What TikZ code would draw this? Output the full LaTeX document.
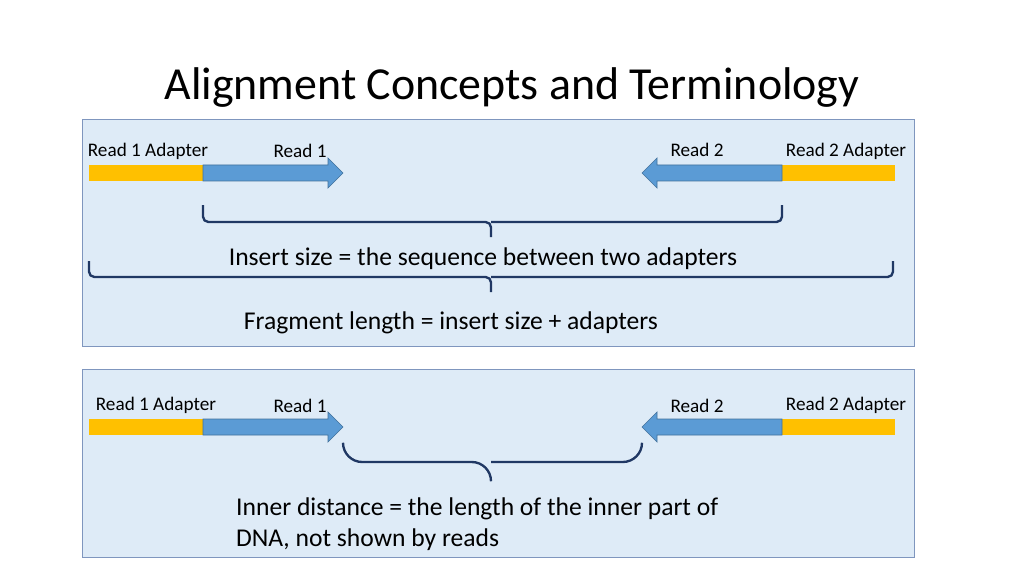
\documentclass[tikz,border=0pt]{standalone}
\usepackage{fontspec}
\setmainfont{Carlito}
\usepackage{tikz}
\usetikzlibrary{positioning}
\definecolor{panelfill}{HTML}{DEEBF7}
\definecolor{panelline}{HTML}{7F96BE}
\definecolor{adaptercol}{HTML}{FFC000}
\definecolor{readfill}{HTML}{5B9BD5}
\definecolor{readline}{HTML}{41719C}
\definecolor{bracecol}{HTML}{203864}

\begin{document}
\begin{tikzpicture}[x=0.9375pt, y=-0.9375pt,
                    every node/.style={font=\fontsize{18}{21}\selectfont, inner sep=0pt},
                    big/.style={font=\fontsize{24}{28.8}\selectfont, align=left},
                    panel/.style={fill=panelfill, draw=panelline, line width=0.8pt},
                    readarrow/.style={fill=readfill, draw=readline, line width=0.6pt},
                    brace/.style={draw=bracecol, line width=2.2pt, rounded corners=#1}]
                                \useasboundingbox[fill=white] (0,0) rectangle (1024,576);
                                \node (title) at (512,88) {\fontsize{43}{50}\selectfont Alignment Concepts and Terminology};

                                % the two panels
                                \draw[panel] (82,119) rectangle (914,346);
                                \draw[panel] (82,369) rectangle (914,557);

                                % adapters and reads
                                \foreach \y in {173,427} {
                                    \fill[adaptercol] (89,\y-8) rectangle (203,\y+8);
                                    \fill[adaptercol] (782,\y-8) rectangle (895,\y+8);
                                    \draw[readarrow] (203,\y-8) -- (328,\y-8) -- (328,\y-15) -- (343,\y)
                                        -- (328,\y+15) -- (328,\y+8) -- (203,\y+8) -- cycle;
                                    \draw[readarrow] (782,\y-8) -- (657,\y-8) -- (657,\y-15) -- (642,\y)
                                        -- (657,\y+15) -- (657,\y+8) -- (782,\y+8) -- cycle;
                                }

                                \node (a1) at (148,151) {Read 1 Adapter};
                                \node (r1) at (300,151) {Read 1};
                                \node (r2) at (697,150) {Read 2};
                                \node (a2) at (846,151) {Read 2 Adapter};

                                \node (b1) at (156,405) {Read 1 Adapter};
                                \node (s1) at (300,406) {Read 1};
                                \node (s2) at (697,406) {Read 2};
                                \node (b2) at (846,405) {Read 2 Adapter};

                                % braces
                                \draw[brace=5] (203,205) -- (203,222) -- (491,222) -- (491,237);
                                \draw[brace=5] (782,205) -- (782,222) -- (491,222);
                                \draw[brace=5] (89,261) -- (89,277) -- (491,277) -- (491,292);
                                \draw[brace=5] (893,261) -- (893,277) -- (491,277);
                                \draw[brace=18] (343,443) -- (343,462) -- (491,462) -- (491,481);
                                \draw[brace=18] (642,443) -- (642,462) -- (491,462);

                                \node[big] (ins) at (483,259) {Insert size = the sequence between two adapters};
                                \node[big] (frag) at (451,323) {Fragment length = insert size + adapters};
                                \node[big, anchor=west] (inner) at (236,524) {Inner distance = the length of the inner part of\\DNA, not shown by reads};
                            \end{tikzpicture}
\end{document}
